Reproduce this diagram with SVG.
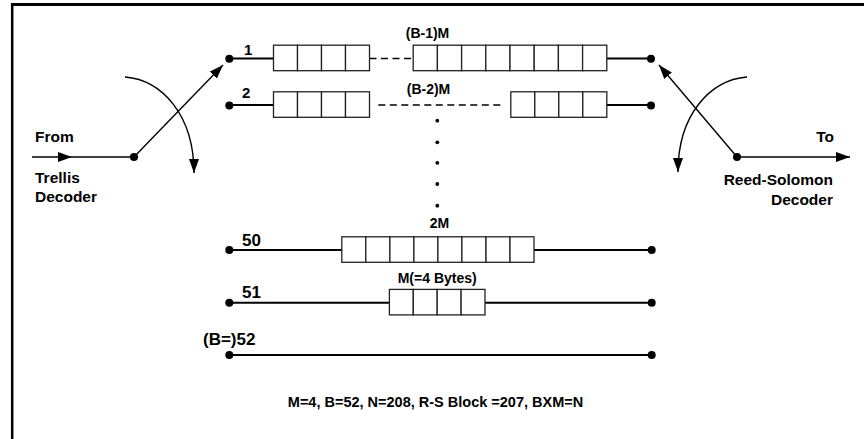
<svg xmlns="http://www.w3.org/2000/svg" width="864" height="439" viewBox="0 0 864 439">
<defs>
<style>
.t{font-family:"Liberation Sans",Arial,sans-serif;font-weight:bold;fill:#000}
.side{font-size:15.5px}
.num{font-size:15px}
.big{font-size:17px}
.lab{font-size:14px}
.foot{font-size:14.5px}
.ln{stroke:#000;stroke-width:2;fill:none}
.thin{stroke:#000;stroke-width:1.4;fill:none}
.dash{stroke:#000;stroke-width:1.4;fill:none;stroke-dasharray:7 4.5}
.cell{fill:#fff;stroke:#222;stroke-width:1.3}
.dot{fill:#000}
</style>
<marker id="ah" viewBox="0 0 14 10" refX="14" refY="5" markerWidth="14" markerHeight="10" markerUnits="userSpaceOnUse" orient="auto">
<path d="M0,0 L14,5 L0,10 z" fill="#000"/>
</marker>
</defs>
<rect width="864" height="439" fill="#fff"/>
<g id="frame">
<line x1="11" y1="4.5" x2="864" y2="4.5" stroke="#000" stroke-width="3"/>
<line x1="12.2" y1="3" x2="12.2" y2="439" stroke="#000" stroke-width="2.5"/>
</g>

<g id="connectors">
<line class="thin" x1="32" y1="157" x2="134" y2="157"/>
<polygon points="58,152 72,157 58,162" fill="#000"/>
<line class="thin" x1="134" y1="157" x2="223" y2="65" marker-end="url(#ah)"/>
<path class="thin" d="M125,77 C162,80 194,115 194,173" marker-end="url(#ah)"/>
<line class="thin" x1="737" y1="157" x2="659" y2="65" marker-end="url(#ah)"/>
<path class="thin" d="M747,77 C710,80 678,115 678,172" marker-end="url(#ah)"/>
<line class="thin" x1="737" y1="157" x2="850" y2="157" marker-end="url(#ah)"/>
</g>

<g id="input-label">
<text class="t side" x="35" y="141.5">From</text>
<text class="t side" x="35" y="182.5">Trellis</text>
<text class="t side" x="35" y="201.5">Decoder</text>
</g>
<g id="input-switch"><circle class="dot" cx="134" cy="157" r="4"/></g>
<g id="output-switch"><circle class="dot" cx="737" cy="157" r="4"/></g>
<g id="output-label">
<text class="t side" x="834" y="141.5" text-anchor="end">To</text>
<text class="t side" x="833" y="185" text-anchor="end">Reed-Solomon</text>
<text class="t side" x="833" y="204.5" text-anchor="end">Decoder</text>
</g>

<g id="row1">
<line class="ln" x1="229" y1="58.5" x2="273.5" y2="58.5"/>
<line class="dash" x1="369.5" y1="58.5" x2="413.2" y2="58.5"/>
<line class="ln" x1="606.8" y1="58.5" x2="651" y2="58.5"/>
<rect class="cell" x="273.5" y="45.2" width="24" height="25.5"/>
<rect class="cell" x="297.5" y="45.2" width="24" height="25.5"/>
<rect class="cell" x="321.5" y="45.2" width="24" height="25.5"/>
<rect class="cell" x="345.5" y="45.2" width="24" height="25.5"/>
<rect class="cell" x="413.2" y="45.2" width="24.2" height="25.5"/>
<rect class="cell" x="437.4" y="45.2" width="24.2" height="25.5"/>
<rect class="cell" x="461.6" y="45.2" width="24.2" height="25.5"/>
<rect class="cell" x="485.8" y="45.2" width="24.2" height="25.5"/>
<rect class="cell" x="510" y="45.2" width="24.2" height="25.5"/>
<rect class="cell" x="534.2" y="45.2" width="24.2" height="25.5"/>
<rect class="cell" x="558.4" y="45.2" width="24.2" height="25.5"/>
<rect class="cell" x="582.6" y="45.2" width="24.2" height="25.5"/>
<circle class="dot" cx="229.3" cy="58.8" r="4"/>
<circle class="dot" cx="651" cy="58.8" r="4"/>
<text class="t num" x="244" y="55">1</text>
<text class="t lab" x="427.5" y="38" text-anchor="middle">(B-1)M</text>
</g>

<g id="row2">
<line class="ln" x1="229" y1="105" x2="273.5" y2="105"/>
<line class="dash" x1="378.3" y1="105" x2="502" y2="105"/>
<line class="ln" x1="606.8" y1="105" x2="651" y2="105"/>
<rect class="cell" x="273.5" y="91.8" width="24" height="25.5"/>
<rect class="cell" x="297.5" y="91.8" width="24" height="25.5"/>
<rect class="cell" x="321.5" y="91.8" width="24" height="25.5"/>
<rect class="cell" x="345.5" y="91.8" width="24" height="25.5"/>
<rect class="cell" x="510.8" y="91.8" width="24" height="25.5"/>
<rect class="cell" x="534.8" y="91.8" width="24" height="25.5"/>
<rect class="cell" x="558.8" y="91.8" width="24" height="25.5"/>
<rect class="cell" x="582.8" y="91.8" width="24" height="25.5"/>
<circle class="dot" cx="229.3" cy="105.5" r="4"/>
<circle class="dot" cx="651" cy="105.5" r="4"/>
<text class="t num" x="242" y="98">2</text>
<text class="t lab" x="428.5" y="94" text-anchor="middle">(B-2)M</text>
</g>

<g id="ellipsis">
<circle class="dot" cx="437.3" cy="120.7" r="1.9"/>
<circle class="dot" cx="437.3" cy="142.3" r="1.9"/>
<circle class="dot" cx="437.3" cy="162.8" r="1.9"/>
<circle class="dot" cx="437.3" cy="184" r="1.9"/>
<circle class="dot" cx="437.3" cy="205.7" r="1.9"/>
</g>

<g id="row50">
<line class="ln" x1="229" y1="250" x2="341.8" y2="250"/>
<line class="ln" x1="534" y1="250" x2="651" y2="250"/>
<rect class="cell" x="341.8" y="236.8" width="24" height="25.5"/>
<rect class="cell" x="365.8" y="236.8" width="24.1" height="25.5"/>
<rect class="cell" x="389.9" y="236.8" width="24" height="25.5"/>
<rect class="cell" x="413.9" y="236.8" width="24" height="25.5"/>
<rect class="cell" x="437.9" y="236.8" width="24" height="25.5"/>
<rect class="cell" x="461.9" y="236.8" width="24.1" height="25.5"/>
<rect class="cell" x="486" y="236.8" width="24" height="25.5"/>
<rect class="cell" x="510" y="236.8" width="24" height="25.5"/>
<circle class="dot" cx="229.3" cy="250" r="4"/>
<circle class="dot" cx="651.7" cy="250" r="4"/>
<text class="t big" x="242" y="246">50</text>
<text class="t lab" x="439.5" y="228.3" text-anchor="middle">2M</text>
</g>

<g id="row51">
<line class="ln" x1="229" y1="302.7" x2="389.4" y2="302.7"/>
<line class="ln" x1="485" y1="302.7" x2="651" y2="302.7"/>
<rect class="cell" x="389.4" y="289.4" width="23.9" height="25.5"/>
<rect class="cell" x="413.3" y="289.4" width="23.9" height="25.5"/>
<rect class="cell" x="437.2" y="289.4" width="23.9" height="25.5"/>
<rect class="cell" x="461.1" y="289.4" width="23.9" height="25.5"/>
<circle class="dot" cx="229.3" cy="302.7" r="4"/>
<circle class="dot" cx="651.7" cy="302.7" r="4"/>
<text class="t big" x="242" y="298">51</text>
<text class="t lab" x="437.2" y="283" text-anchor="middle">M(=4 Bytes)</text>
</g>

<g id="row52">
<line class="ln" x1="229" y1="355" x2="651" y2="355"/>
<circle class="dot" cx="229.3" cy="355" r="4"/>
<circle class="dot" cx="651.7" cy="355" r="4"/>
<text class="t big" x="203" y="345">(B=)52</text>
</g>

<g id="footnote">
<text class="t foot" x="435.5" y="406.5" text-anchor="middle">M=4, B=52, N=208, R-S Block =207, BXM=N</text>
</g>
</svg>
